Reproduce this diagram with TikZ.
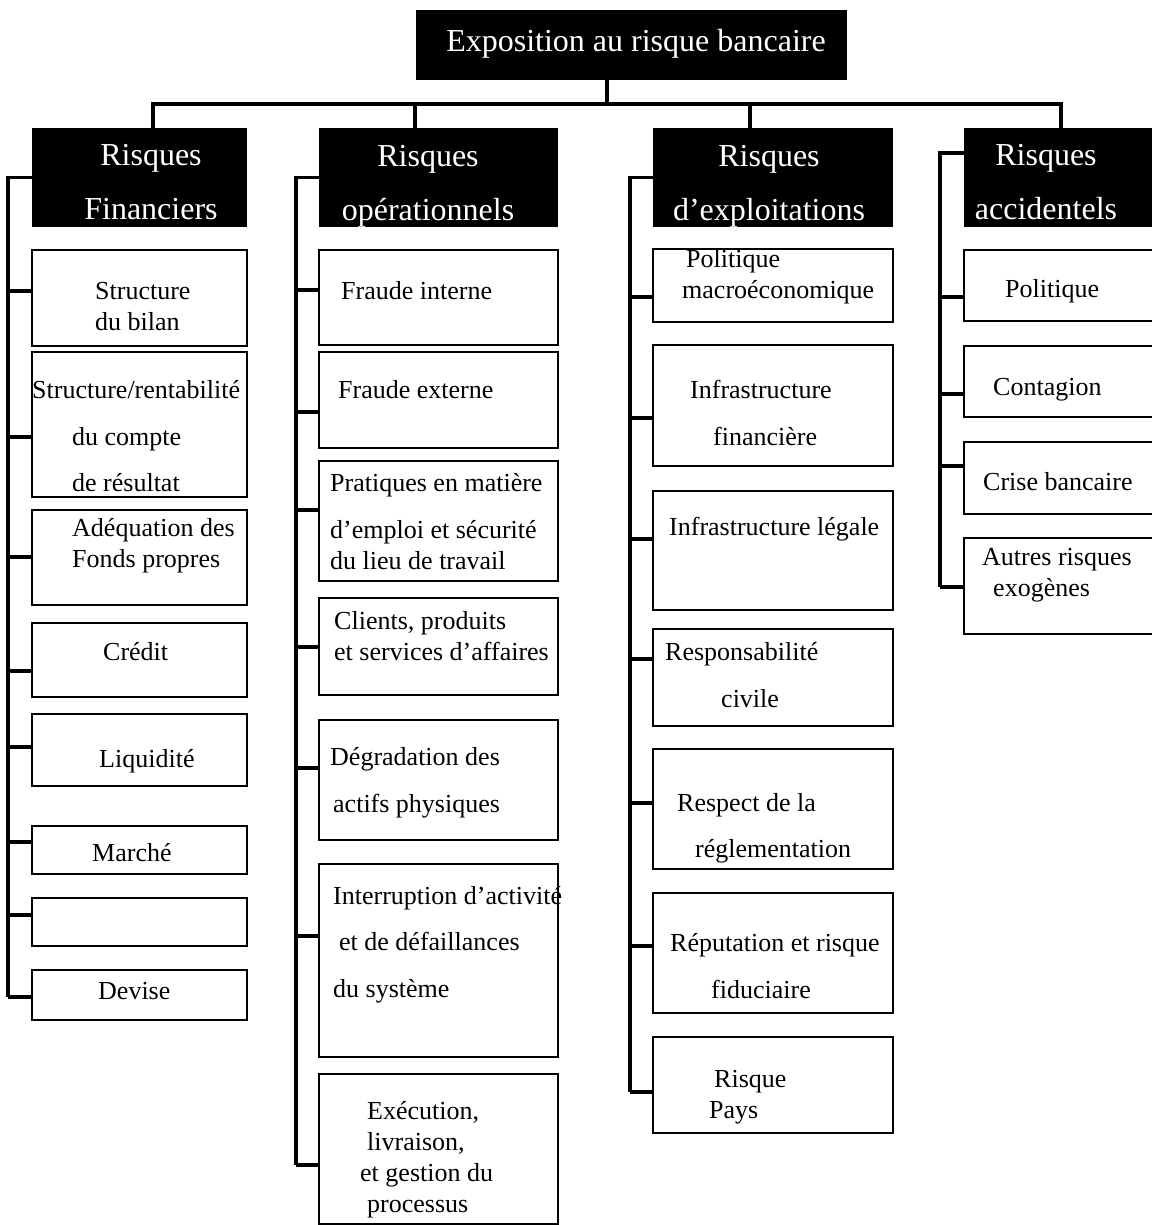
\documentclass[tikz,border=0pt]{standalone}
\usepackage{fontspec}
\setmainfont{Liberation Serif}
\usetikzlibrary{fit}
\tikzset{
  wire/.style={line width=3.4pt},
  leaf/.style={draw, line width=1.8pt, inner sep=0pt},
  hbox/.style={fill=black, inner sep=0pt},
  txt/.style={inner sep=0pt, align=left, anchor=west, font=\fontsize{26}{31}\selectfont},
  txtw/.style={txt, font=\fontsize{26}{46.5}\selectfont},
  htxt/.style={inner sep=0pt, align=center, text=white, font=\fontsize{32}{54}\selectfont},
}
\begin{document}
\begin{tikzpicture}[x=1pt, y=-1pt]
	\useasboundingbox (0,0) rectangle (1151,1225);
	% titre et en-tetes
	\node[hbox, fit={(416,10) (847,80)}] (top) {};
	\node[htxt] (topt) at (636,44) {Exposition au risque bancaire};
	\node[hbox, fit={(32,128) (247,227)}] (h1) {};
	\node[hbox, fit={(319,128) (558,227)}] (h2) {};
	\node[hbox, fit={(653,128) (893,227)}] (h3) {};
	\node[hbox, fit={(964,128) (1158,227)}] (h4) {};
	\node[htxt] (h1t) at (151,182) {Risques\\Financiers};
	\node[htxt] (h2t) at (428,186) {Risques\\opérationnels};
	\node[htxt] (h3t) at (769,186) {Risques\\d’exploitations};
	\node[htxt] (h4t) at (1046,182) {Risques\\accidentels};

	% bus
	\coordinate (bus) at (0,104);
	\coordinate (st0) at ([xshift=-24.5pt]top.south);
	\coordinate (st1) at ([xshift=13.5pt]h1.north);
	\coordinate (st2) at ([xshift=-23.5pt]h2.north);
	\coordinate (st3) at ([xshift=-23pt]h3.north);
	\draw[wire] (st1) |- (bus -| h4.north) -- (h4.north);
	\draw[wire] (st0) -- (st0 |- bus);
	\draw[wire] (st2) -- (st2 |- bus);
	\draw[wire] (st3) -- (st3 |- bus);

	% risques financiers
	\node[leaf, fit={(32,250) (247,346)}] (f1) {};
	\node[leaf, fit={(32,352) (247,497)}] (f2) {};
	\node[leaf, fit={(32,510) (247,605)}] (f3) {};
	\node[leaf, fit={(32,623) (247,697)}] (f4) {};
	\node[leaf, fit={(32,714) (247,786)}] (f5) {};
	\node[leaf, fit={(32,826) (247,874)}] (f6) {};
	\node[leaf, fit={(32,898) (247,946)}] (f7) {};
	\node[leaf, fit={(32,970) (247,1020)}] (f8) {};
	\node[txt] (f1t) at (95,306.5) {Structure\\du bilan};
	\node[txtw] (f2t) at (32,436.5) {Structure/rentabilité\\\hspace*{40pt}du compte\\\hspace*{40pt}de résultat};
	\node[txt] (f3t) at (72,545.5) {Adéquation des\\Fonds propres};
	\node[txt] (f4t) at (103,652) {Crédit};
	\node[txt] (f5t) at (99,761) {Liquidité};
	\node[txt] (f6t) at (92,853) {Marché};
	\node[txt] (f8t) at (98,991) {Devise};
	\coordinate (s1) at (8,0);
	\draw[wire] (h1.west) -- (h1.west -| s1) -- (s1 |- 0,997);
	\foreach \n/\y in {f1/291, f2/437, f3/557, f4/671, f5/747, f6/842, f7/915, f8/997}
		\draw[wire] (s1 |- 0,\y) -- (\n.west |- 0,\y);

	% risques operationnels
	\node[leaf, fit={(319,250) (558,345)}] (o1) {};
	\node[leaf, fit={(319,352) (558,448)}] (o2) {};
	\node[leaf, fit={(319,461) (558,581)}] (o3) {};
	\node[leaf, fit={(319,598) (558,695)}] (o4) {};
	\node[leaf, fit={(319,720) (558,840)}] (o5) {};
	\node[leaf, fit={(319,864) (558,1057)}] (o6) {};
	\node[leaf, fit={(319,1074) (558,1224)}] (o7) {};
	\node[txt] (o1t) at (341,291) {Fraude interne};
	\node[txt] (o2t) at (338,390) {Fraude externe};
	\node[txtw] (o3t) at (330,521.5) {Pratiques en matière\\ d’emploi et sécurité\\[-15.5pt] du lieu de travail};
	\node[txt] (o4t) at (334,636.5) {Clients, produits\\et services d’affaires};
	\node[txtw] (o5t) at (330,783) {Dégradation des\\\hspace*{3pt}actifs physiques};
	\node[txtw] (o6t) at (333,944.5) {Interruption d’activité\\\hspace*{6pt}et de défaillances\\du système};
	\node[txt] (o7t) at (360,1159.5) {\hspace*{7pt}Exécution,\\\hspace*{7pt}livraison,\\et gestion du\\\hspace*{7pt}processus};
	\coordinate (s2) at (296,0);
	\draw[wire] (h2.west) -- (h2.west -| s2) -- (s2 |- 0,1165);
	\foreach \n/\y in {o1/290, o2/412, o3/510, o4/647, o5/768, o6/936, o7/1165}
		\draw[wire] (s2 |- 0,\y) -- (\n.west |- 0,\y);

	% risques d'exploitations
	\node[leaf, fit={(653,249) (893,322)}] (x1) {};
	\node[leaf, fit={(653,345) (893,466)}] (x2) {};
	\node[leaf, fit={(653,491) (893,610)}] (x3) {};
	\node[leaf, fit={(653,629) (893,726)}] (x4) {};
	\node[leaf, fit={(653,749) (893,869)}] (x5) {};
	\node[leaf, fit={(653,893) (893,1013)}] (x6) {};
	\node[leaf, fit={(653,1037) (893,1133)}] (x7) {};
	\node[txt] (x1t) at (682,276.5) {\hspace*{4pt}Politique\\macroéconomique};
	\node[txtw] (x2t) at (690,413) {Infrastructure\\\hspace*{23pt}financière};
	\node[txt] (x3t) at (669,529) {Infrastructure légale};
	\node[txtw] (x4t) at (665,675) {Responsabilité\\\hspace*{56pt}civile};
	\node[txtw] (x5t) at (677,828.5) {Respect de la\\\hspace*{18pt}réglementation};
	\node[txtw] (x6t) at (670,966) {Réputation et risque\\\hspace*{41pt}fiduciaire};
	\node[txt] (x7t) at (709,1097.5) {\hspace*{5pt}Risque\\Pays};
	\coordinate (s3) at (630,0);
	\draw[wire] (h3.west) -- (h3.west -| s3) -- (s3 |- 0,1092);
	\foreach \n/\y in {x1/297, x2/418, x3/539, x4/659, x5/803, x6/946, x7/1092}
		\draw[wire] (s3 |- 0,\y) -- (\n.west |- 0,\y);

	% risques accidentels
	\node[leaf, fit={(964,250) (1158,321)}] (a1) {};
	\node[leaf, fit={(964,346) (1158,417)}] (a2) {};
	\node[leaf, fit={(964,442) (1158,514)}] (a3) {};
	\node[leaf, fit={(964,538) (1158,634)}] (a4) {};
	\node[txt] (a1t) at (1005,291) {Politique};
	\node[txt] (a2t) at (993,390) {Contagion};
	\node[txt] (a3t) at (983,482) {Crise bancaire};
	\node[txt] (a4t) at (982,575) {Autres risques\\\hspace*{11pt}exogènes};
	\coordinate (s4) at (940,0);
	\draw[wire] ([yshift=24.5pt]h4.west) -- ([yshift=24.5pt]h4.west -| s4) -- (s4 |- 0,587);
	\foreach \n/\y in {a1/297, a2/394, a3/466, a4/587}
		\draw[wire] (s4 |- 0,\y) -- (\n.west |- 0,\y);
\end{tikzpicture}
\end{document}
